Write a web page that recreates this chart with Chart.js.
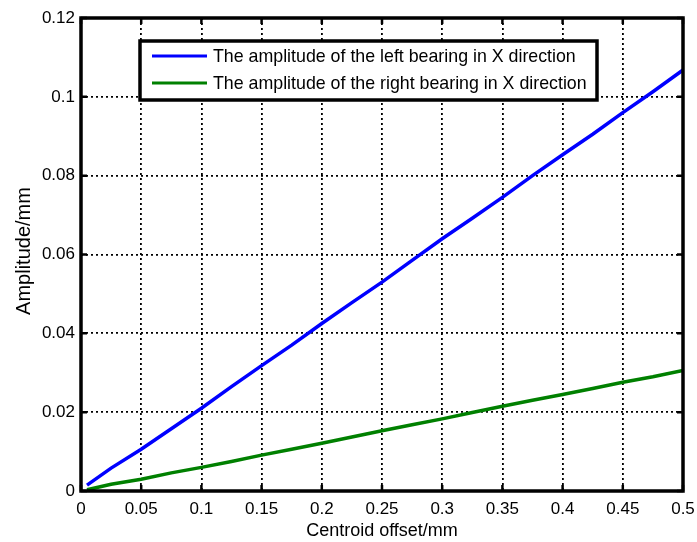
<!DOCTYPE html>
<html>
<head>
<meta charset="utf-8">
<script src="https://cdn.jsdelivr.net/npm/chart.js@4.4.0/dist/chart.umd.min.js"></script>
<style>
  html, body { margin: 0; padding: 0; background: #fff; }
  #wrap { position: relative; width: 697px; height: 542px; }
</style>
</head>
<body>
<div id="wrap"><canvas id="c" width="697" height="542"></canvas></div>
<script>
const offsets = [0.005, 0.025, 0.05, 0.075, 0.1, 0.125, 0.15, 0.175, 0.2, 0.225, 0.25,
                 0.275, 0.3, 0.325, 0.35, 0.375, 0.4, 0.425, 0.45, 0.475, 0.5];
const leftBearing = [0.0015, 0.0058, 0.0106, 0.0158, 0.0210, 0.0265, 0.0318, 0.0370, 0.0425, 0.0478, 0.0530,
                     0.0585, 0.0640, 0.0692, 0.0745, 0.0800, 0.0853, 0.0905, 0.0960, 0.1013, 0.1068];
const rightBearing = [0.0003, 0.0017, 0.0030, 0.0046, 0.0060, 0.0075, 0.0091, 0.0106, 0.0121, 0.0137, 0.0153,
                      0.0168, 0.0183, 0.0199, 0.0215, 0.0230, 0.0245, 0.0260, 0.0276, 0.0290, 0.0306];
const seriesNames = ['The amplitude of the left bearing in X direction',
                     'The amplitude of the right bearing in X direction'];
const seriesColors = ['#0000ff', '#008000'];
const xTitle = 'Centroid offset/mm';
const yTitle = 'Amplitude/mm';

const FONT = '"Liberation Sans", Arial, sans-serif';

const toPoints = (ys) => offsets.map((x, i) => ({ x: x, y: ys[i] }));
const fmt = v => String(Number(v.toFixed(3)));

// frame, inward ticks, titles and legend, drawn like the original figure
const matlabFrame = {
  id: 'matlabFrame',
  afterDraw(chart) {
    const ctx = chart.ctx;
    const a = chart.chartArea;
    const xs = chart.scales.x, ys = chart.scales.y;
    ctx.save();
    ctx.strokeStyle = '#000';
    ctx.lineWidth = 2.5;
    ctx.beginPath();
    xs.ticks.forEach(t => {
      const px = xs.getPixelForValue(t.value);
      ctx.moveTo(px, a.bottom); ctx.lineTo(px, a.bottom - 6);
      ctx.moveTo(px, a.top); ctx.lineTo(px, a.top + 6);
    });
    ys.ticks.forEach(t => {
      const py = ys.getPixelForValue(t.value);
      ctx.moveTo(a.left, py); ctx.lineTo(a.left + 6, py);
      ctx.moveTo(a.right, py); ctx.lineTo(a.right - 6, py);
    });
    ctx.stroke();
    ctx.lineWidth = 3.5;
    ctx.strokeRect(a.left, a.top, a.right - a.left, a.bottom - a.top);

    // titles
    ctx.fillStyle = '#000';
    ctx.font = '18px ' + FONT;
    ctx.textAlign = 'center';
    ctx.textBaseline = 'middle';
    ctx.fillText(xTitle, (a.left + a.right) / 2, 531);
    ctx.font = '20px ' + FONT;
    ctx.translate(24, 251);
    ctx.rotate(-Math.PI / 2);
    ctx.fillText(yTitle, 0, 0);
    ctx.setTransform(1, 0, 0, 1, 0, 0);

    // legend box
    const bx = 140, by = 41, bw = 457, bh = 59;
    ctx.fillStyle = '#fff';
    ctx.fillRect(bx, by, bw, bh);
    ctx.lineWidth = 3.5;
    ctx.strokeRect(bx, by, bw, bh);
    ctx.font = '17.8px ' + FONT;
    ctx.textAlign = 'left';
    seriesNames.forEach((name, i) => {
      const cy = 56 + i * 27;
      ctx.strokeStyle = seriesColors[i];
      ctx.lineWidth = 3;
      ctx.beginPath();
      ctx.moveTo(152, cy); ctx.lineTo(207, cy);
      ctx.stroke();
      ctx.fillStyle = '#000';
      ctx.fillText(name, 213, cy + 1);
    });
    ctx.restore();
  }
};

new Chart(document.getElementById('c'), {
  type: 'line',
  data: {
    datasets: [
      { label: seriesNames[0], data: toPoints(leftBearing), borderColor: seriesColors[0],
        borderWidth: 3.5, pointRadius: 0, fill: false, tension: 0 },
      { label: seriesNames[1], data: toPoints(rightBearing), borderColor: seriesColors[1],
        borderWidth: 3.5, pointRadius: 0, fill: false, tension: 0 }
    ]
  },
  options: {
    responsive: false,
    animation: false,
    layout: { padding: { left: 0, right: 14, top: 18, bottom: 0 } },
    plugins: { legend: { display: false }, tooltip: { enabled: false } },
    scales: {
      x: {
        type: 'linear', min: 0, max: 0.5,
        afterFit: s => { s.height = 51; s.paddingLeft = 0; s.paddingRight = 0; },
        ticks: { stepSize: 0.05, color: '#000', padding: 8, maxRotation: 0,
                 font: { family: FONT, size: 17 }, callback: v => fmt(v) },
        grid: { color: '#000', lineWidth: 1.8, drawTicks: false },
        border: { display: false, dash: [2, 3] }
      },
      y: {
        min: 0, max: 0.12,
        afterFit: s => { s.width = 81; s.paddingTop = 0; s.paddingBottom = 0; },
        ticks: { stepSize: 0.02, color: '#000', padding: 6,
                 font: { family: FONT, size: 17 }, callback: v => fmt(v) },
        grid: { color: '#000', lineWidth: 1.8, drawTicks: false },
        border: { display: false, dash: [2, 3] }
      }
    }
  },
  plugins: [matlabFrame]
});
</script>
</body>
</html>
